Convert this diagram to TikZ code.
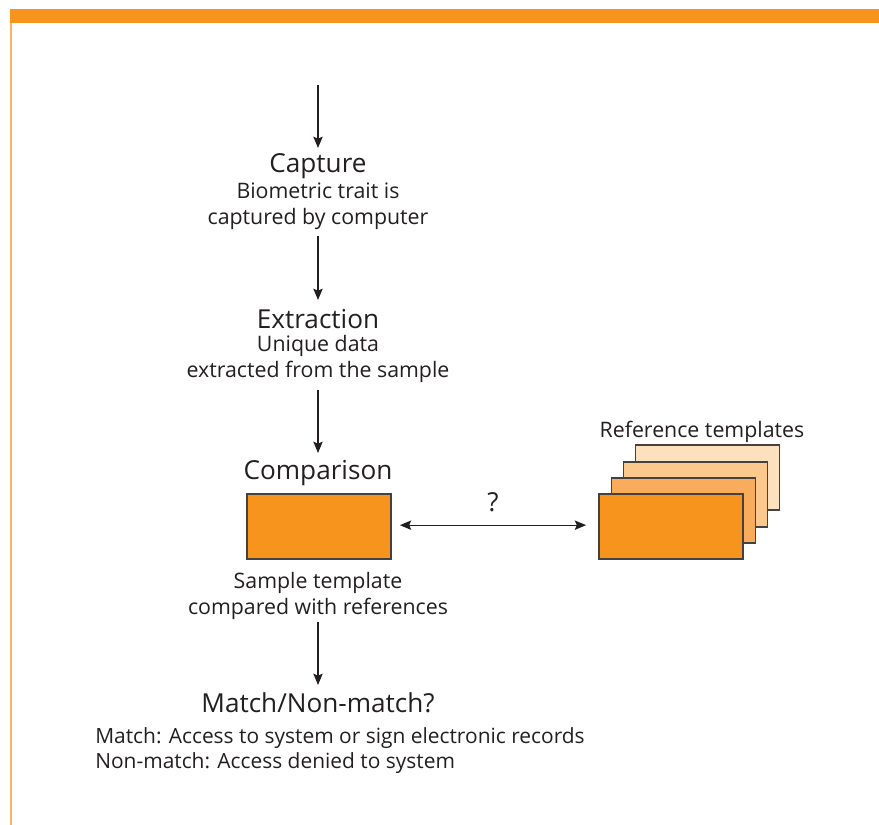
\documentclass[tikz,border=0pt]{standalone}
\usepackage{fontspec}
\setmainfont{Open Sans}
\usetikzlibrary{arrows.meta}
\definecolor{barorange}{HTML}{F7941D}
\definecolor{edgeorange}{HTML}{F9B466}
\definecolor{tplA}{HTML}{F7941D}
\definecolor{tplB}{HTML}{F9AD5C}
\definecolor{tplC}{HTML}{FBC88D}
\definecolor{tplD}{HTML}{FDE1BF}
\definecolor{ink}{HTML}{231F20}
\tikzset{
  title/.style={font=\fontsize{19.6pt}{23pt}\selectfont, text=ink, inner sep=0pt},
  body/.style={font=\fontsize{16pt}{19.5pt}\selectfont, text=ink, inner sep=0pt, align=center},
  flowtip/.tip={Stealth[length=8.5pt,width=7pt,inset=1.5pt]},
  flow/.style={draw=ink, line width=0.9pt, -{flowtip}},
  tplbox/.style={draw=ink!85, line width=1.3pt, minimum width=108pt, minimum height=48.75pt, inner sep=0pt},
}
\begin{document}
\begin{tikzpicture}[x=0.75pt,y=-0.75pt]
\useasboundingbox (0,0) rectangle (879,825);
% frame
\fill[barorange] (10,9) rectangle (879,23);
\fill[edgeorange] (10,23) rectangle (12,825);

% flow column
\coordinate (top) at (318,85);
\node[title] (capture) at (318,166) {Capture};
\node[body] (capturetxt) at (318,206) {Biometric trait is\\captured by computer};
\node[title] (extraction) at (318,319) {Extraction};
\node[body] (extracttxt) at (318,359) {Unique data\\extracted from the sample};
\node[title] (comparison) at (318,473) {Comparison};
\node[tplbox, fill=tplA] (sample) at (319,526.5) {};
\node[body] (sampletxt) at (318,595.5) {Sample template\\compared with references};
\node[title] (decision) at (318,703) {Match/Non-match?};
\node[body, align=left, anchor=west, font=\fontsize{15.7pt}{19pt}\selectfont] (outcome) at (95,750.5)
  {Match: Access to system or sign electronic records\\Non-match: Access denied to system};

% reference template stack
\node[tplbox, fill=tplD] (refD) at (707.5,477.5) {};
\node[tplbox, fill=tplC] (refC) at (695.5,494.5) {};
\node[tplbox, fill=tplB] (refB) at (683.5,510.5) {};
\node[tplbox, fill=tplA] (refA) at (671,526.5) {};
\node[body] (reftitle) at (702,432) {Reference templates};

% connectors
\draw[flow] (top) -- ([yshift=13.5pt]capture.center);
\draw[flow] ([yshift=-22.5pt]capturetxt.center) -- ([yshift=14.25pt]extraction.center);
\draw[flow] ([yshift=-23.25pt]extracttxt.center) -- ([yshift=15pt]comparison.center);
\draw[flow] ([yshift=-19.85pt]sampletxt.center) -- ([yshift=13.5pt]decision.center);
\draw[draw=ink, line width=0.9pt, {flowtip}-{flowtip}]
  ([xshift=6pt,yshift=1pt]sample.east) -- node[title, yshift=17pt] (q) {?} ([xshift=-9pt,yshift=1pt]refA.west);
\end{tikzpicture}
\end{document}
